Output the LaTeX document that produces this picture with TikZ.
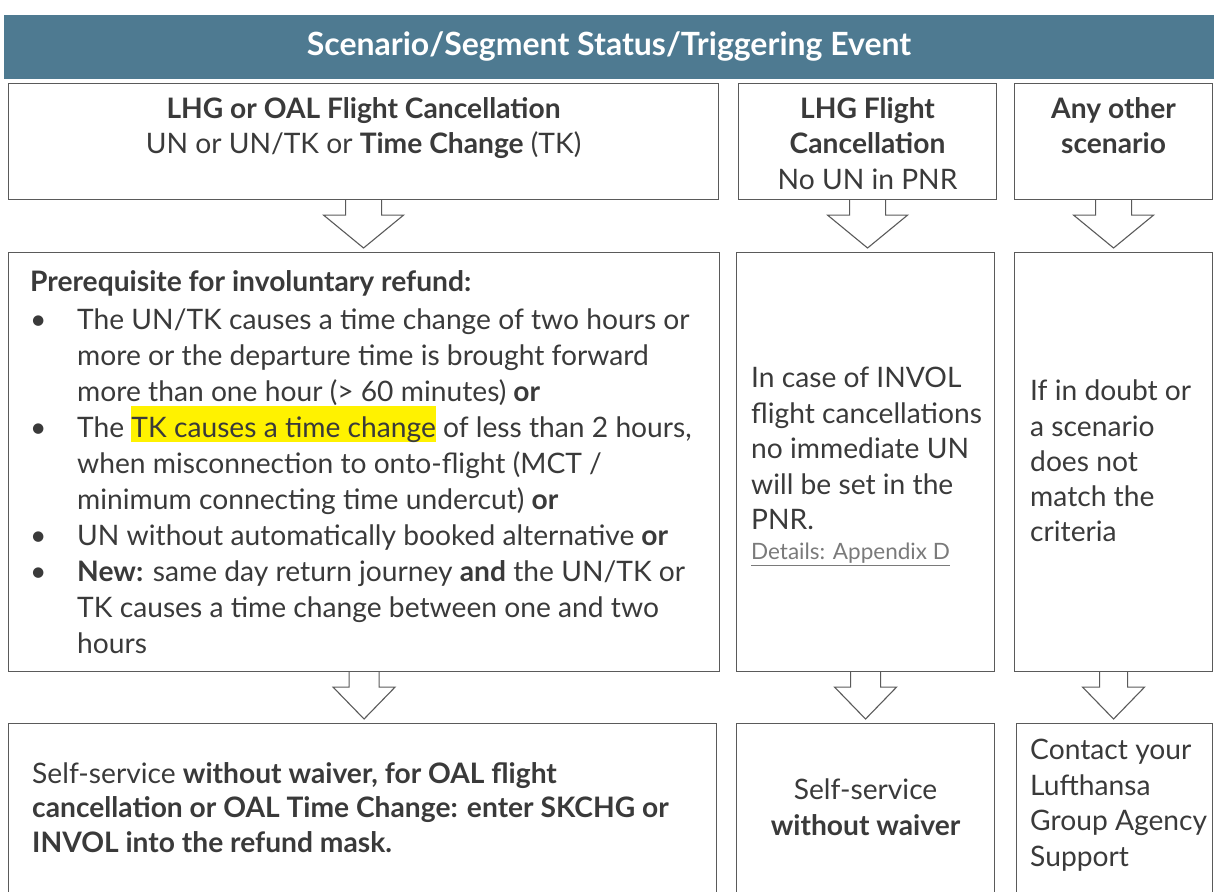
\documentclass[tikz,border=0pt]{standalone}
\usepackage{fontspec}
\setmainfont{Lato}
\usetikzlibrary{calc,positioning}
\definecolor{hdrblue}{HTML}{4E7A91}
\definecolor{txtgray}{HTML}{3A3A3A}
\definecolor{linegray}{HTML}{5A5A5A}
\definecolor{linkgray}{HTML}{7A7A7A}
\tikzset{
  box/.style={draw=linegray, line width=1.1pt, anchor=north west, inner sep=0pt},
  bodytext/.style={font=\fontsize{28.2}{35.5}\selectfont, text=txtgray, inner sep=0pt},
  flowarrow/.style={draw=linegray, line width=1.1pt, line join=miter},
}
% block arrow: top node, bottom node, stem half width, head half width
\newcommand\blockarrow[4]{%
  \draw[flowarrow] ($(#1.south)+(-#3,0)$) -- ++(0,15) -- ++(#3-#4,0)
    -- ($(#1.south |- #2.north)+(0,-4)$) -- ($(#1.south)+(#4,15)$)
    -- ++(#3-#4,0) -- ++(0,-15);}
\newcommand\bul{\makebox[47pt][l]{\textbullet}}
\newcommand\cont{\hspace*{47pt}}
\newcommand\marktext[1]{{\setlength\fboxsep{0pt}\smash{\colorbox{yellow}{\rule[-4pt]{0pt}{35pt}#1}}}}
\begin{document}
\begin{tikzpicture}[x=1pt, y=-1pt]
\useasboundingbox (0,0) rectangle (1214,891);
\clip (0,0) rectangle (1214,891);

% header bar
\node[box, draw=none, fill=hdrblue, minimum width=1211pt, minimum height=64pt,
      font=\bfseries\fontsize{32}{38}\selectfont, text=white] (hdr) at (3,14)
      {Scenario/Segment Status/Triggering Event};

% row 1
\node[box, minimum width=710pt, minimum height=116pt] (cancel) at (8,83) {};
\node[box, minimum width=258pt, minimum height=116pt] (lhg) at (738,83) {};
\node[box, minimum width=198pt, minimum height=116pt] (other) at (1014,83) {};

% row 2
\node[box, minimum width=711pt, minimum height=419pt] (prereq) at (8,252) {};
\node[box, minimum width=258pt, minimum height=419pt] (involinfo) at (736,252) {};
\node[box, minimum width=198pt, minimum height=419pt] (doubt) at (1014,252) {};

% row 3
\node[box, minimum width=708pt, minimum height=200pt] (selfoal) at (8,723) {};
\node[box, minimum width=258pt, minimum height=200pt] (selfsvc) at (736,723) {};
\node[box, minimum width=196pt, minimum height=200pt] (contact) at (1016,723) {};

% texts
\node[bodytext, anchor=north, align=center] (cancelt) at ($(cancel.north)+(0,14)$)
  {\textbf{LHG or OAL Flight Cancellation}\\UN or UN/TK or \textbf{Time Change} (TK)};
\node[bodytext, anchor=north, align=center] (lhgt) at ($(lhg.north)+(0,14)$)
  {\textbf{LHG Flight}\\\textbf{Cancellation}\\No UN in PNR};
\node[bodytext, anchor=north, align=center] (othert) at ($(other.north)+(0,14)$)
  {\textbf{Any other}\\\textbf{scenario}};

\node[bodytext, font=\fontsize{28.2}{36}\selectfont, anchor=north west, align=left] (prereqt)
  at ($(prereq.north west)+(22,18)$)
  {\textbf{Prerequisite for involuntary refund:}\\[2pt]
   \bul The UN/TK causes a time change of two hours or\\
   \cont more or the departure time is brought forward\\
   \cont more than one hour (> 60 minutes) \textbf{or}\\
   \bul The \marktext{TK causes a time change} of less than 2 hours,\\
   \cont when misconnection to onto-flight (MCT /\\
   \cont minimum connecting time undercut) \textbf{or}\\
   \bul UN without automatically booked alternative \textbf{or}\\
   \bul \textbf{New:} same day return journey \textbf{and} the UN/TK or\\
   \cont TK causes a time change between one and two\\
   \cont hours};
\node[bodytext, anchor=north west, align=left] (involt) at ($(involinfo.north west)+(15,115)$)
  {In case of INVOL\\flight cancellations\\no immediate UN\\will be set in the\\PNR.};
\node[bodytext, font=\fontsize{22.5}{26}\selectfont, text=linkgray, anchor=north west]
  (appx) [below right=13pt and 0pt of involt.south west] {\underline{Details: Appendix D}};
\node[bodytext, font=\fontsize{28.2}{35.25}\selectfont, anchor=north west, align=left] (doubtt)
  at ($(doubt.north west)+(16,128)$)
  {If in doubt or\\a scenario\\does not\\match the\\criteria};

\node[bodytext, font=\fontsize{28.2}{34.5}\selectfont, anchor=north west, align=left] (selfoalt)
  at ($(selfoal.north west)+(24,39)$)
  {Self-service \textbf{without waiver, for OAL flight}\\
   \textbf{cancellation or OAL Time Change: enter SKCHG or}\\
   \textbf{INVOL into the refund mask.}};
\node[bodytext, anchor=north, align=center] (selfsvct) at ($(selfsvc.north)+(0,56)$)
  {Self-service\\\textbf{without waiver}};
\node[bodytext, anchor=north west, align=left] (contactt) at ($(contact.north west)+(14,16)$)
  {Contact your\\Lufthansa\\Group Agency\\Support};

% arrows
\blockarrow{cancel}{prereq}{18}{40}
\blockarrow{lhg}{involinfo}{18}{40}
\blockarrow{other}{doubt}{18}{40}
\blockarrow{prereq}{selfoal}{15}{31}
\blockarrow{involinfo}{selfsvc}{15}{31}
\blockarrow{doubt}{contact}{14}{31}
\end{tikzpicture}
\end{document}
